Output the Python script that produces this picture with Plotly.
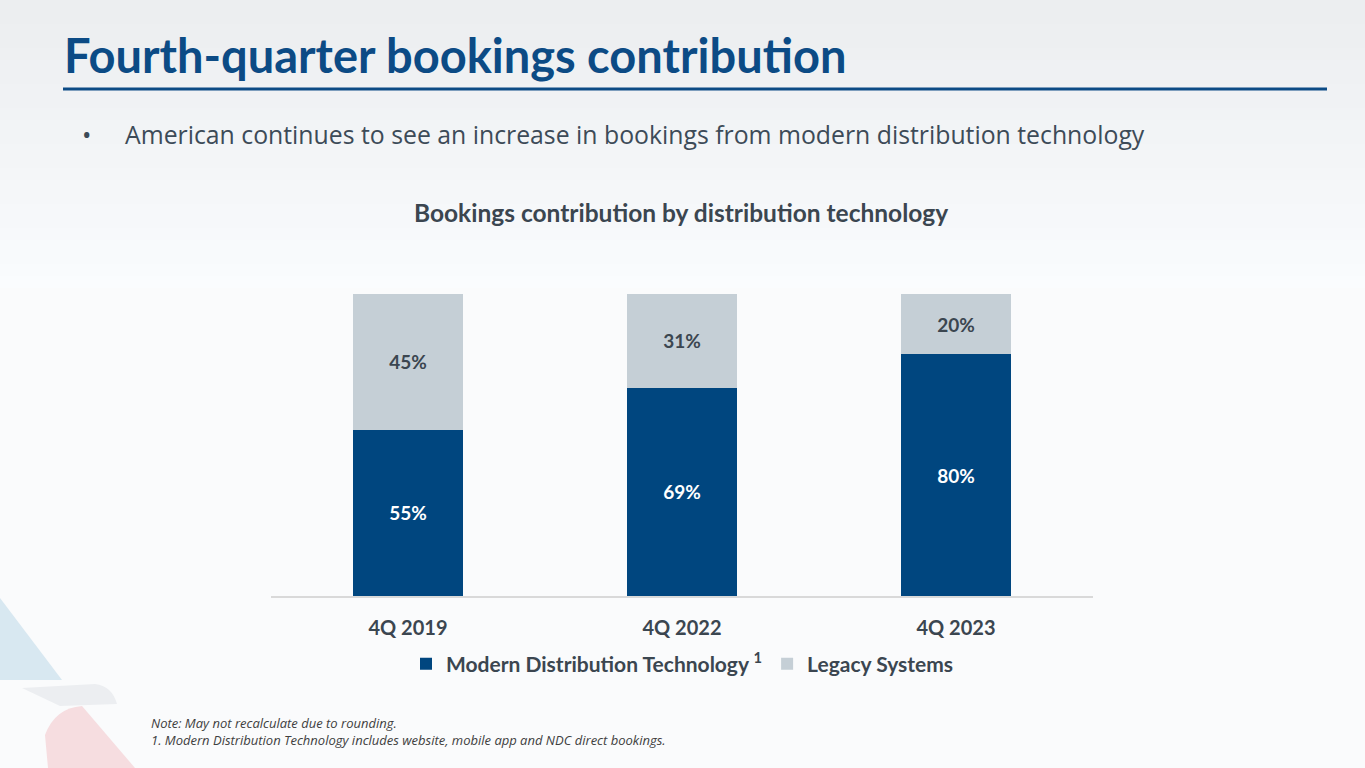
import plotly.graph_objects as go

W, H = 1365, 768

# data
quarters = ["4Q 2019", "4Q 2022", "4Q 2023"]
modern_pct = [55, 69, 80]
legacy_pct = [45, 31, 20]
series_names = ["Modern Distribution Technology <sup>1</sup>", "Legacy Systems"]

DARK_BLUE = "#00467f"
LIGHT_GRAY = "#c5cfd6"
TEXT_DARK = "#3b4650"
TITLE_BLUE = "#0c4b85"


def px_x(x):
    return x / W


def px_y(y):
    return 1 - y / H


fig = go.Figure()
fig.add_trace(
    go.Bar(
        x=quarters,
        y=modern_pct,
        name=series_names[0],
        marker={"color": DARK_BLUE, "line": {"width": 0}},
        texttemplate="%{y}%",
        textposition="inside",
        insidetextanchor="middle",
        textfont={"family": "Lato", "size": 19, "color": "#ffffff", "weight": "bold"},
    )
)
fig.add_trace(
    go.Bar(
        x=quarters,
        y=legacy_pct,
        name=series_names[1],
        marker={"color": LIGHT_GRAY, "line": {"width": 0}},
        texttemplate="%{y}%",
        textposition="inside",
        insidetextanchor="middle",
        textfont={"family": "Lato", "size": 19, "color": TEXT_DARK, "weight": "bold"},
    )
)

# background gradient bands (top of slide is a little greyer)
shapes = []
n_bands = 24
for i in range(n_bands):
    t = i / (n_bands - 1)
    c = int(236 + (250 - 236) * t)
    shapes.append(
        dict(
            type="rect", xref="paper", yref="paper", layer="below",
            x0=0, x1=1, y0=px_y(12 * (i + 1)), y1=px_y(12 * i),
            fillcolor=f"rgb({c},{c + 2},{c + 4})", line={"width": 0},
        )
    )

# title underline
shapes.append(
    dict(type="line", xref="paper", yref="paper", x0=px_x(63), x1=px_x(1327),
         y0=px_y(89), y1=px_y(89), line={"color": TITLE_BLUE, "width": 3})
)

# faint logo decoration bottom-left
shapes.append(
    dict(type="path", xref="paper", yref="paper", layer="below",
         path=f"M 0 {px_y(598)} L {px_x(62)} {px_y(680)} L 0 {px_y(680)} Z",
         fillcolor="#d8e8f1", line={"width": 0})
)
shapes.append(
    dict(type="path", xref="paper", yref="paper", layer="below",
         path=(f"M {px_x(22)} {px_y(688)} L {px_x(95)} {px_y(684)} "
               f"Q {px_x(112)} {px_y(686)} {px_x(117)} {px_y(704)} "
               f"L {px_x(60)} {px_y(706)} Z"),
         fillcolor="#eceef1", line={"width": 0})
)
shapes.append(
    dict(type="path", xref="paper", yref="paper", layer="below",
         path=(f"M {px_x(45)} {px_y(735)} Q {px_x(55)} {px_y(708)} {px_x(82)} {px_y(706)} "
               f"L {px_x(135)} {px_y(768)} L {px_x(48)} {px_y(768)} Z"),
         fillcolor="#f6dde0", line={"width": 0})
)

annotations = [
    dict(text="Fourth-quarter bookings contribution", x=px_x(62), y=px_y(55),
         font={"family": "Lato", "size": 47, "color": TITLE_BLUE, "weight": "bold"}),
    dict(text="•", x=px_x(80), y=px_y(134),
         font={"family": "Open Sans", "size": 25, "color": "#3d4b58"}),
    dict(text="American continues to see an increase in bookings from modern distribution technology",
         x=px_x(123), y=px_y(134),
         font={"family": "Open Sans", "size": 24.8, "color": "#3d4b58"}),
    dict(text="Bookings contribution by distribution technology", x=px_x(681), y=px_y(212),
         xanchor="center",
         font={"family": "Lato", "size": 24.5, "color": TEXT_DARK, "weight": "bold"}),
    dict(text="<i>Note: May not recalculate due to rounding.</i><br>"
              "<i>1. Modern Distribution Technology includes website, mobile app and NDC direct bookings.</i>",
         x=px_x(149), y=px_y(731), align="left",
         font={"family": "Open Sans", "size": 13, "color": "#404040"}),
]
for a in annotations:
    a.setdefault("xanchor", "left")
    a.setdefault("yanchor", "middle")
    a["xref"] = "paper"
    a["yref"] = "paper"
    a["showarrow"] = False

fig.update_layout(
    width=W,
    height=H,
    barmode="stack",
    bargap=0.6,
    margin={"l": 0, "r": 0, "t": 0, "b": 0},
    paper_bgcolor="#fafbfc",
    plot_bgcolor="rgba(0,0,0,0)",
    showlegend=True,
    legend={
        "orientation": "h",
        "x": 0.5,
        "xanchor": "center",
        "xref": "paper",
        "y": px_y(664),
        "yanchor": "middle",
        "font": {"family": "Lato", "size": 21, "color": TEXT_DARK, "weight": "bold"},
        "bgcolor": "rgba(0,0,0,0)",
        "traceorder": "normal",
        "itemsizing": "constant",
    },
    xaxis={
        "domain": [px_x(271), px_x(1093)],
        "showgrid": False,
        "showline": True,
        "linecolor": "#d9d9d9",
        "linewidth": 1.5,
        "ticks": "",
        "ticklabelstandoff": 13,
        "tickfont": {"family": "Lato", "size": 20, "color": TEXT_DARK, "weight": "bold"},
    },
    yaxis={
        "domain": [px_y(596), px_y(294)],
        "range": [0, 100],
        "visible": False,
        "showgrid": False,
    },
    shapes=shapes,
    annotations=annotations,
)

fig.write_html(
    "out.html",
    config={"displayModeBar": False},
    post_script="document.body.style.margin='0';",
)
